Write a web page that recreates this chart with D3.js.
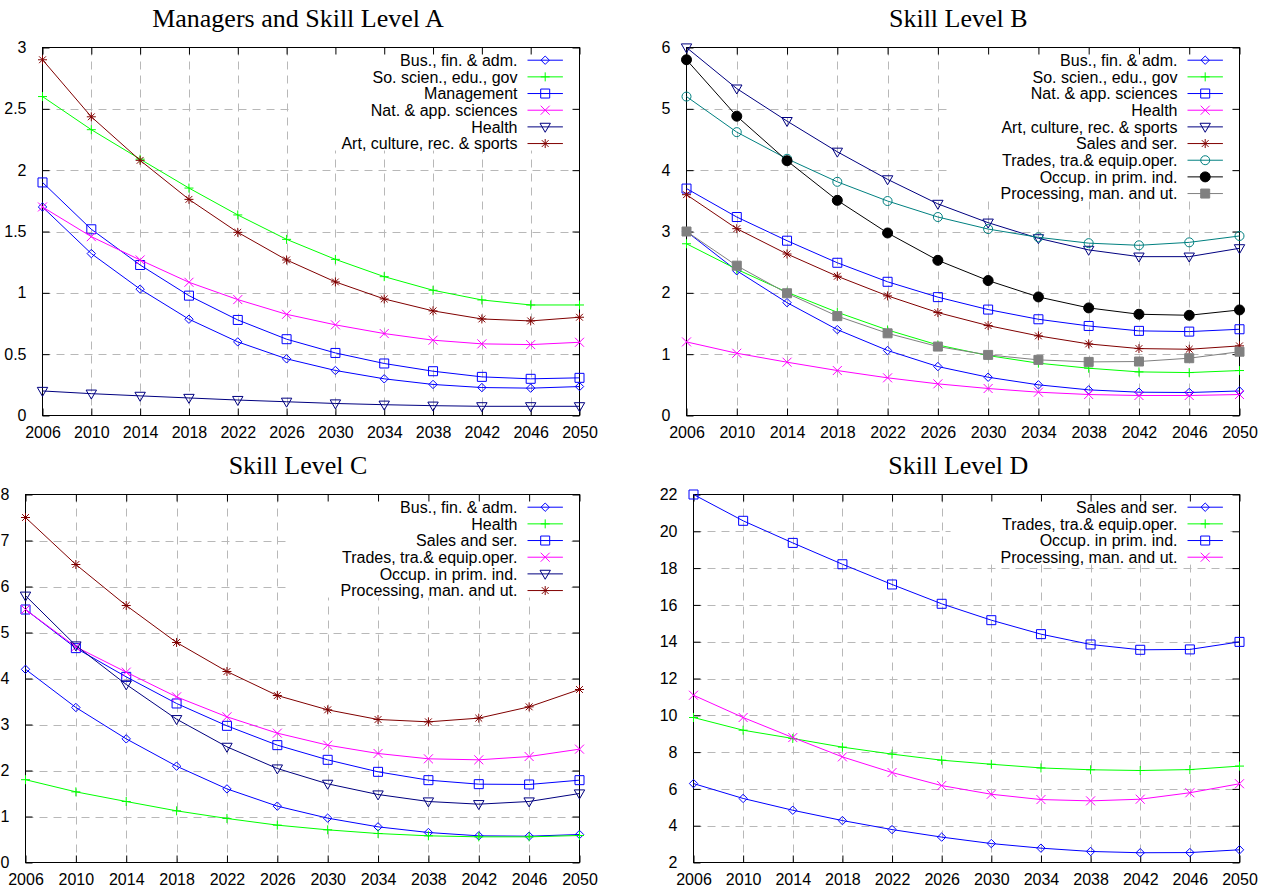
<!DOCTYPE html>
<html><head><meta charset="utf-8">
<script src="https://cdn.jsdelivr.net/npm/d3@7"></script>
<style>
html,body{margin:0;padding:0;background:#fff;}
</style></head>
<body><svg id="chart" width="1267" height="890"></svg>
<script>
// ---------- data ----------
const years = [2006,2010,2014,2018,2022,2026,2030,2034,2038,2042,2046,2050];

// Panel A: Managers and Skill Level A
const titleA = "Managers and Skill Level A";
const yTicksA = [0,0.5,1,1.5,2,2.5,3];
const aBusFin   = [1.70,1.32,1.03,0.785,0.60,0.462,0.367,0.299,0.253,0.228,0.223,0.236];
const aSoScien  = [2.60,2.33,2.09,1.854,1.635,1.436,1.273,1.132,1.021,0.942,0.901,0.901];
const aMgmt     = [1.90,1.518,1.227,0.977,0.779,0.622,0.510,0.424,0.361,0.315,0.299,0.307];
const aNatApp   = [1.70,1.458,1.268,1.086,0.945,0.825,0.739,0.668,0.614,0.584,0.578,0.597];
const aHealth   = [0.20,0.178,0.16,0.143,0.126,0.112,0.098,0.088,0.08,0.075,0.075,0.075];
const aArt      = [2.90,2.435,2.08,1.762,1.493,1.268,1.089,0.950,0.853,0.787,0.771,0.801];

// Panel B: Skill Level B
const titleB = "Skill Level B";
const yTicksB = [0,1,2,3,4,5,6];
const bBusFin   = [3.00,2.36,1.84,1.40,1.06,0.798,0.624,0.50,0.418,0.38,0.375,0.40];
const bSoScien  = [2.80,2.384,2.01,1.683,1.395,1.15,0.977,0.853,0.771,0.711,0.70,0.733];
const bNatApp   = [3.70,3.236,2.85,2.49,2.18,1.93,1.727,1.569,1.46,1.38,1.368,1.406];
const bHealth   = [1.20,1.015,0.869,0.733,0.614,0.516,0.44,0.38,0.342,0.326,0.326,0.342];
const bArt      = [6.00,5.33,4.80,4.30,3.85,3.45,3.144,2.889,2.70,2.59,2.59,2.726];
const bSales    = [3.60,3.046,2.633,2.27,1.95,1.678,1.466,1.298,1.167,1.091,1.08,1.135];
const bTrades   = [5.20,4.62,4.186,3.81,3.497,3.236,3.04,2.905,2.81,2.775,2.823,2.927];
const bOccup    = [5.80,4.88,4.154,3.508,2.976,2.53,2.20,1.933,1.754,1.651,1.634,1.721];
const bProc     = [3.00,2.443,1.993,1.62,1.34,1.124,0.988,0.907,0.874,0.88,0.934,1.04];

// Panel C: Skill Level C
const titleC = "Skill Level C";
const yTicksC = [0,1,2,3,4,5,6,7,8];
const cBusFin   = [4.20,3.37,2.688,2.094,1.60,1.225,0.964,0.775,0.652,0.58,0.572,0.609];
const cHealth   = [1.80,1.536,1.326,1.123,0.957,0.812,0.71,0.63,0.58,0.558,0.558,0.587];
const cSales    = [5.50,4.66,4.036,3.457,2.971,2.551,2.232,1.971,1.79,1.703,1.696,1.79];
const cTrades   = [5.50,4.688,4.138,3.601,3.167,2.812,2.551,2.37,2.254,2.232,2.304,2.464];
const cOccup    = [5.80,4.717,3.87,3.116,2.514,2.043,1.71,1.478,1.326,1.268,1.326,1.50];
const cProc     = [7.50,6.478,5.587,4.783,4.152,3.63,3.319,3.109,3.058,3.138,3.384,3.761];

// Panel D: Skill Level D
const titleD = "Skill Level D";
const yTicksD = [2,4,6,8,10,12,14,16,18,20,22];
const dSales    = [6.29,5.48,4.84,4.28,3.79,3.38,3.03,2.78,2.60,2.53,2.54,2.69];
const dTrades   = [9.88,9.19,8.74,8.27,7.89,7.56,7.34,7.14,7.04,7.00,7.05,7.24];
const dOccup    = [22.0,20.57,19.37,18.21,17.11,16.06,15.17,14.41,13.85,13.56,13.58,13.99];
const dProc     = [11.09,9.88,8.79,7.74,6.89,6.18,5.71,5.42,5.35,5.44,5.79,6.28];

// ---------- styles ----------
const BLUE="#0000ff", GREEN="#00ff00", MAGENTA="#ff00ff", NAVY="#000080",
      DRED="#800000", TEAL="#008080", BLACK="#000000", GRAY="#808080";
const SANS="'Liberation Sans', Arial, Helvetica, sans-serif";
const SERIF="'Liberation Serif', 'Times New Roman', Times, serif";

const panels = [
  {title:titleA, titleX:298, yDomain:[0,3], yTicks:yTicksA, rect:{l:42.5,r:579.5,t:47.5,b:415.5},
   series:[
    {name:"Bus., fin. & adm.", v:aBusFin, c:BLUE, m:"diamond"},
    {name:"So. scien., edu., gov", v:aSoScien, c:GREEN, m:"plus"},
    {name:"Management", v:aMgmt, c:BLUE, m:"square"},
    {name:"Nat. & app. sciences", v:aNatApp, c:MAGENTA, m:"cross"},
    {name:"Health", v:aHealth, c:NAVY, m:"tri"},
    {name:"Art, culture, rec. & sports", v:aArt, c:DRED, m:"star"}]},
  {title:titleB, titleX:958.3, yDomain:[0,6], yTicks:yTicksB, rect:{l:686.5,r:1239.5,t:47.5,b:415.5},
   series:[
    {name:"Bus., fin. & adm.", v:bBusFin, c:BLUE, m:"diamond"},
    {name:"So. scien., edu., gov", v:bSoScien, c:GREEN, m:"plus"},
    {name:"Nat. & app. sciences", v:bNatApp, c:BLUE, m:"square"},
    {name:"Health", v:bHealth, c:MAGENTA, m:"cross"},
    {name:"Art, culture, rec. & sports", v:bArt, c:NAVY, m:"tri"},
    {name:"Sales and ser.", v:bSales, c:DRED, m:"star"},
    {name:"Trades, tra.& equip.oper.", v:bTrades, c:TEAL, m:"circle"},
    {name:"Occup. in prim. ind.", v:bOccup, c:BLACK, m:"fcircle"},
    {name:"Processing, man. and ut.", v:bProc, c:GRAY, m:"fsquare"}]},
  {title:titleC, titleX:298, yDomain:[0,8], yTicks:yTicksC, rect:{l:25.5,r:579.5,t:494.5,b:862.5},
   series:[
    {name:"Bus., fin. & adm.", v:cBusFin, c:BLUE, m:"diamond"},
    {name:"Health", v:cHealth, c:GREEN, m:"plus"},
    {name:"Sales and ser.", v:cSales, c:BLUE, m:"square"},
    {name:"Trades, tra.& equip.oper.", v:cTrades, c:MAGENTA, m:"cross"},
    {name:"Occup. in prim. ind.", v:cOccup, c:NAVY, m:"tri"},
    {name:"Processing, man. and ut.", v:cProc, c:DRED, m:"star"}]},
  {title:titleD, titleX:958.3, yDomain:[2,22], yTicks:yTicksD, rect:{l:693.5,r:1239.5,t:494.5,b:862.5},
   series:[
    {name:"Sales and ser.", v:dSales, c:BLUE, m:"diamond"},
    {name:"Trades, tra.& equip.oper.", v:dTrades, c:GREEN, m:"plus"},
    {name:"Occup. in prim. ind.", v:dOccup, c:BLUE, m:"square"},
    {name:"Processing, man. and ut.", v:dProc, c:MAGENTA, m:"cross"}]}
];

function markerPath(type){
  const s=4.5;
  switch(type){
    case "diamond": return `M0,-4.2L4.2,0L0,4.2L-4.2,0Z`;
    case "plus": return `M${-s},0H${s}M0,${-s}V${s}`;
    case "square": case "fsquare": return `M${-s},${-s}H${s}V${s}H${-s}Z`;
    case "cross": return `M${-s},${-s}L${s},${s}M${-s},${s}L${s},${-s}`;
    case "tri": return `M-5.2,-3.6H5.2L0,5.4Z`;
    case "star": return `M${-s},0H${s}M0,${-s}V${s}M-3.4,-3.4L3.4,3.4M-3.4,3.4L3.4,-3.4`;
    case "circle": case "fcircle": {const p=d3.path(); p.arc(0,0,type==="fcircle"?5:4.5,0,2*Math.PI); return p.toString();}
  }
}
function isFilled(m){return m==="fcircle"||m==="fsquare";}

const svg = d3.select("#chart");
const fmt = d => String(d);

panels.forEach(P=>{
  const R=P.rect;
  const x=d3.scaleLinear().domain([2006,2050]).range([R.l,R.r]);
  const y=d3.scaleLinear().domain(P.yDomain).range([R.b,R.t]);
  const g=svg.append("g");

  // grid
  const grid=g.append("g").attr("stroke","#b8b8b8").attr("stroke-width",1).attr("stroke-dasharray","8,6");
  grid.selectAll("line.v").data(years.slice(1,-1)).join("line")
    .attr("x1",d=>Math.round(x(d))+0.5).attr("x2",d=>Math.round(x(d))+0.5).attr("y1",R.t).attr("y2",R.b);
  grid.selectAll("line.h").data(P.yTicks.slice(1,-1)).join("line")
    .attr("y1",d=>Math.round(y(d))+0.5).attr("y2",d=>Math.round(y(d))+0.5).attr("x1",R.l).attr("x2",R.r);

  // legend background
  const rowH=16.67, first=R.t+12.7;
  const textRight=R.r-62;
  const tmp=g.append("g");
  let maxW=0;
  P.series.forEach(s=>{const t=tmp.append("text").style("font-family",SANS).style("font-size","16px").text(s.name); maxW=Math.max(maxW,t.node().getComputedTextLength()); t.remove();});
  tmp.remove();
  const boxL=textRight-maxW-50, boxB=first+(P.series.length-1)*rowH+7;
  g.append("rect").attr("x",boxL).attr("y",R.t+1).attr("width",R.r-9-boxL).attr("height",boxB-R.t-1).attr("fill","#fff");

  // border
  g.append("rect").attr("x",R.l).attr("y",R.t).attr("width",R.r-R.l).attr("height",R.b-R.t)
    .attr("fill","none").attr("stroke","#000").attr("stroke-width",1);

  // axes via d3
  const xAxis=d3.axisBottom(x).tickValues(years).tickFormat(d3.format("d")).tickSize(-7).tickPadding(14);
  const ax=g.append("g").attr("transform",`translate(0,${R.b})`).call(xAxis);
  const xTop=d3.axisTop(x).tickValues(years).tickFormat("").tickSize(-7);
  const axt=g.append("g").attr("transform",`translate(0,${R.t})`).call(xTop);
  const yAxis=d3.axisLeft(y).tickValues(P.yTicks).tickFormat(fmt).tickSize(-7).tickPadding(16);
  const ay=g.append("g").attr("transform",`translate(${R.l},0)`).call(yAxis);
  const yRight=d3.axisRight(y).tickValues(P.yTicks).tickFormat("").tickSize(-7);
  const ayr=g.append("g").attr("transform",`translate(${R.r},0)`).call(yRight);
  [ax,axt,ay,ayr].forEach(a=>{a.select(".domain").remove(); a.selectAll("line").attr("stroke","#000");});
  [ax,ay].forEach(a=>a.selectAll("text").style("font-size","16px").style("font-family",SANS).attr("fill","#000"));
  ax.selectAll("text").attr("dy","0.55em");

  // title
  g.append("text").attr("x",P.titleX).attr("y",R.t-20.5).attr("text-anchor","middle")
    .style("font-family",SERIF).style("font-size","26px").attr("fill","#000").text(P.title);

  // series
  const line=d3.line().x((d,i)=>x(years[i])).y(d=>y(d));
  P.series.forEach(s=>{
    g.append("path").attr("d",line(s.v)).attr("fill","none").attr("stroke",s.c).attr("stroke-width",1);
    g.selectAll(null).data(s.v).join("path")
      .attr("transform",(d,i)=>`translate(${x(years[i])},${y(d)})`)
      .attr("d",markerPath(s.m))
      .attr("fill",isFilled(s.m)?s.c:"none").attr("stroke",s.c).attr("stroke-width",1);
  });

  // legend content
  const lg=g.append("g");
  P.series.forEach((s,i)=>{
    const cy=first+i*rowH;
    lg.append("text").attr("x",textRight).attr("y",cy).attr("dy","0.36em").attr("text-anchor","end")
      .style("font-family",SANS).style("font-size","16px").attr("fill","#000").text(s.name);
    lg.append("line").attr("x1",R.r-52).attr("x2",R.r-16.6).attr("y1",cy).attr("y2",cy).attr("stroke",s.c).attr("stroke-width",1);
    lg.append("path").attr("transform",`translate(${R.r-34.3},${cy})`).attr("d",markerPath(s.m))
      .attr("fill",isFilled(s.m)?s.c:"none").attr("stroke",s.c).attr("stroke-width",1);
  });
});
</script></body></html>
